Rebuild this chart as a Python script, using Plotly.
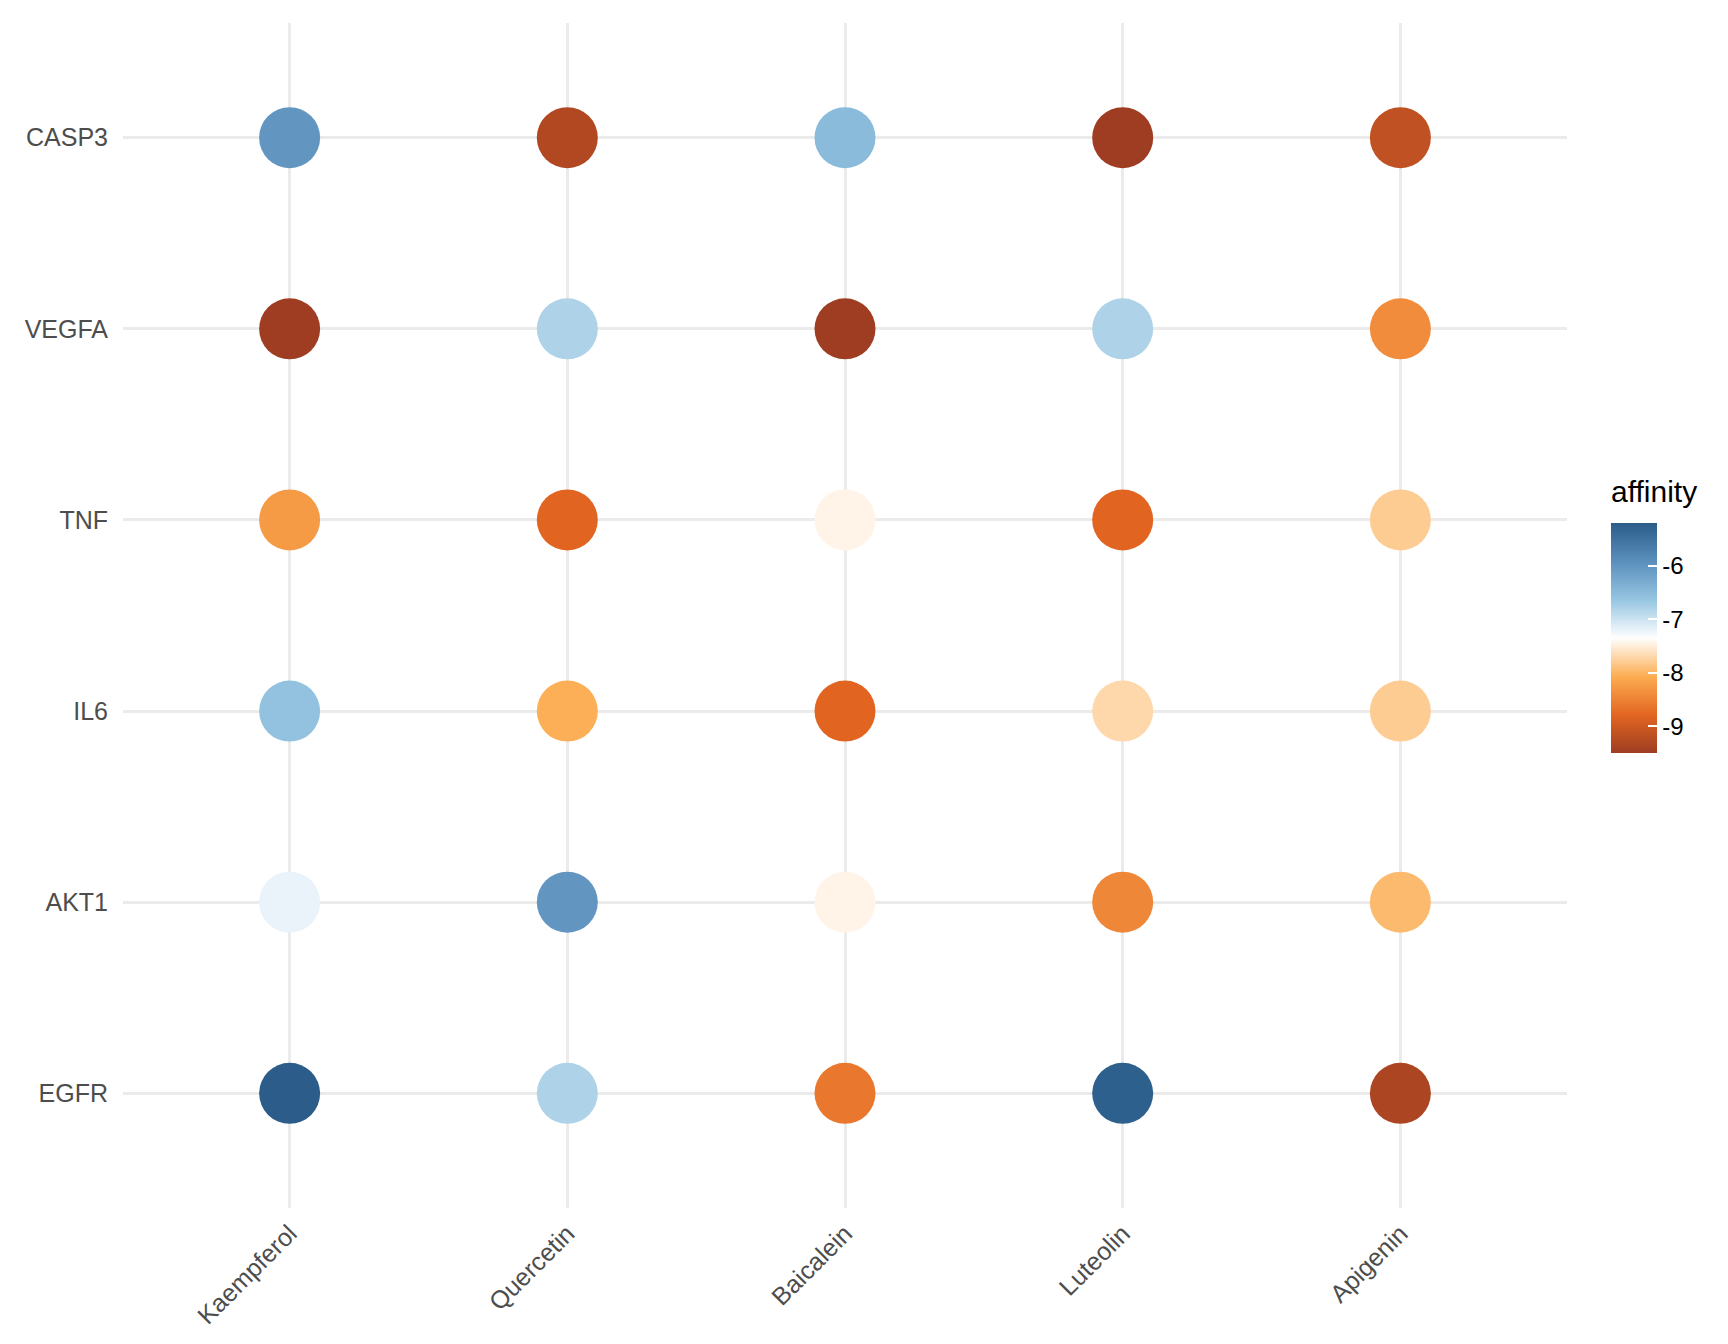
import plotly.graph_objects as go

compounds = ["Kaempferol", "Quercetin", "Baicalein", "Luteolin", "Apigenin"]
targets = ["EGFR", "AKT1", "IL6", "TNF", "VEGFA", "CASP3"]

# affinity values per target (rows) for each compound (columns)
aff_EGFR  = [-5.20, -6.80, -8.60, -5.25, -9.35]
aff_AKT1  = [-7.20, -6.00, -7.45, -8.45, -7.95]
aff_IL6   = [-6.60, -8.05, -8.80, -7.70, -7.80]
aff_TNF   = [-8.25, -8.80, -7.45, -8.80, -7.80]
aff_VEGFA = [-9.50, -6.80, -9.50, -6.80, -8.40]
aff_CASP3 = [-6.00, -9.30, -6.50, -9.50, -9.15]

rows = {"EGFR": aff_EGFR, "AKT1": aff_AKT1, "IL6": aff_IL6,
        "TNF": aff_TNF, "VEGFA": aff_VEGFA, "CASP3": aff_CASP3}

xs, ys, vals = [], [], []
for t in targets:
    for c, v in zip(compounds, rows[t]):
        xs.append(c)
        ys.append(t)
        vals.append(v)

palette = ["#9E3D22", "#E36621", "#FCAD52", "#FFFFFF", "#95C5E1", "#5B8FBC", "#2B5C8A"]
cscale = [[i / (len(palette) - 1), col] for i, col in enumerate(palette)]

W, H = 1728, 1344
font = "Liberation Sans, Arial, sans-serif"
PL, PR, PT, PB = 115, 1559, 15, 1200  # plot panel edges in pixels

fig = go.Figure(go.Scatter(
    x=xs, y=ys, mode="markers",
    marker=dict(
        size=61, color=vals, colorscale=cscale,
        cmin=min(vals), cmax=max(vals),
        line=dict(width=0),
        colorbar=dict(
            thickness=46, len=230, lenmode="pixels",
            xref="paper", x=(1603 - PL) / (PR - PL), xanchor="left",
            yref="paper", y=(PB - 745) / (PB - PT), yanchor="bottom",
            xpad=0, ypad=0, outlinewidth=0,
            tickvals=[-6, -7, -8, -9], ticktext=["-6", "-7", "-8", "-9"],
            ticks="inside", ticklen=9, tickcolor="#ffffff", tickwidth=1.5,
            tickfont=dict(size=24, color="#000000", family=font),
        ),
    ),
    hovertemplate="%{x} - %{y}: %{marker.color}<extra></extra>",
))

fig.add_annotation(
    text="affinity", xref="paper", yref="paper",
    x=(1601 - PL) / (PR - PL), y=(PB - 502) / (PB - PT),
    xanchor="left", yanchor="bottom", showarrow=False,
    font=dict(size=30, color="#000000", family=font),
)

fig.update_layout(
    width=W, height=H,
    paper_bgcolor="#ffffff", plot_bgcolor="#ffffff",
    margin=dict(l=PL, r=W - PR, t=PT, b=H - PB),
    showlegend=False,
    font=dict(family=font),
    xaxis=dict(
        categoryorder="array", categoryarray=compounds,
        range=[-0.6, len(compounds) - 0.4],
        showgrid=True, gridcolor="#EBEBEB", gridwidth=2.5,
        zeroline=False, showline=False, ticks="",
        tickangle=-45, ticklabelstandoff=5,
        tickfont=dict(size=25, color="#4D4D4D", family=font),
    ),
    yaxis=dict(
        categoryorder="array", categoryarray=targets,
        range=[-0.6, len(targets) - 0.4],
        showgrid=True, gridcolor="#EBEBEB", gridwidth=2.5,
        zeroline=False, showline=False, ticks="",
        ticklabelstandoff=14,
        tickfont=dict(size=25, color="#4D4D4D", family=font),
    ),
)

fig.write_html("out.html")
